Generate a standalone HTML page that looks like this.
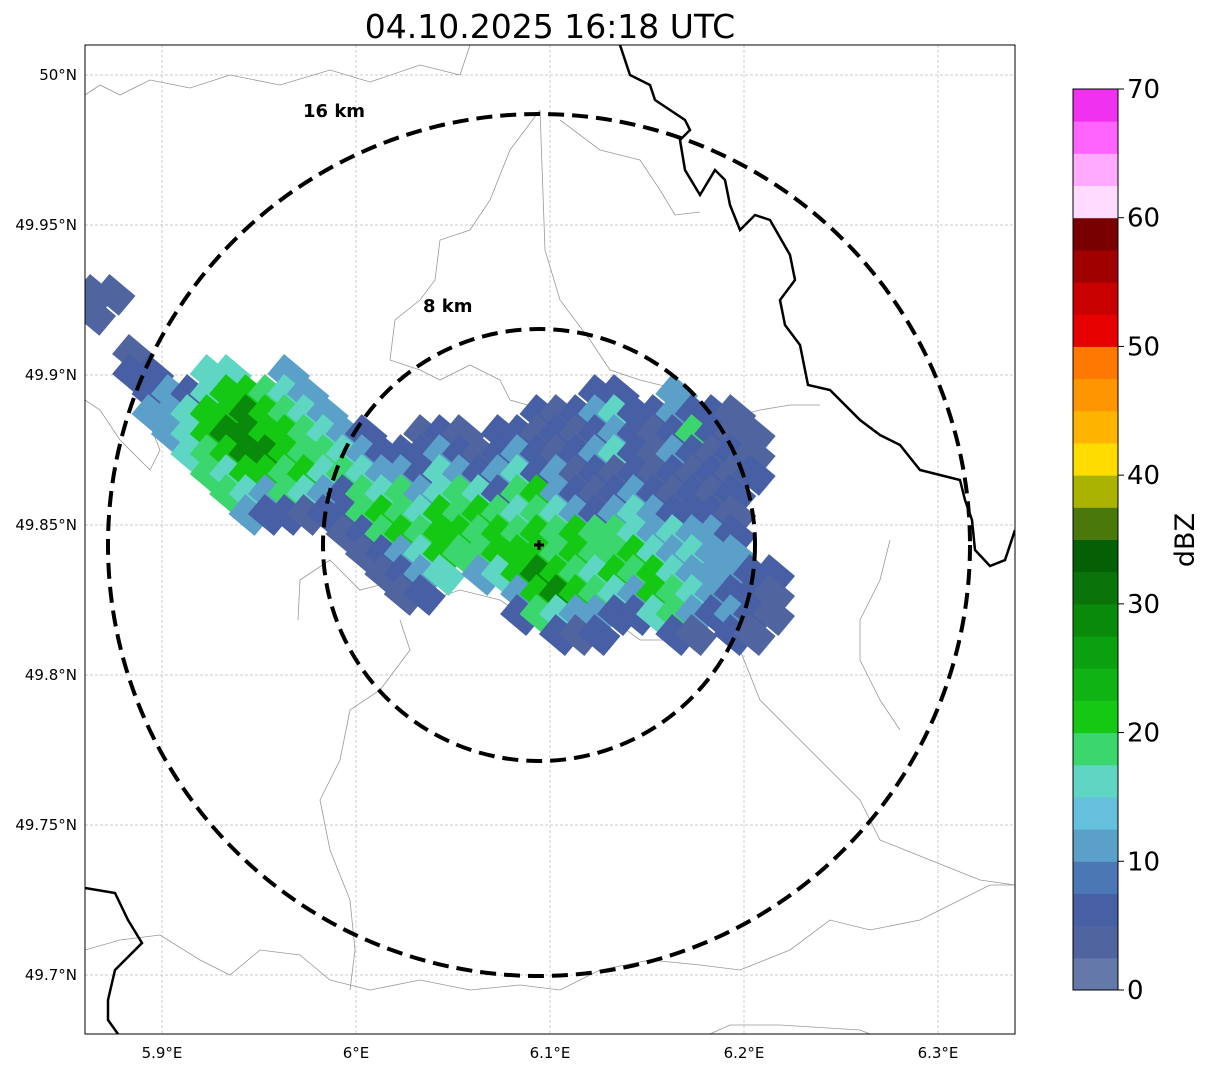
<!DOCTYPE html>
<html><head><meta charset="utf-8"><style>
body{margin:0;background:#fff;font-family:"Liberation Sans","DejaVu Sans",sans-serif;}
svg text{font-family:"DejaVu Sans","Liberation Sans",sans-serif;}
</style></head><body>
<svg id="chart" width="1207" height="1069" viewBox="0 0 1207 1069" xmlns="http://www.w3.org/2000/svg">
<rect width="1207" height="1069" fill="#fff"/>
<text x="550" y="38" font-size="33" text-anchor="middle">04.10.2025 16:18 UTC</text>
<defs><clipPath id="mapclip"><rect x="85" y="45" width="930" height="989"/></clipPath></defs>
<g id="grid"></g>
<g id="borders" clip-path="url(#mapclip)" fill="none">
<path stroke="#999" stroke-width="0.8" d="M85,95 L100,85 L120,95 L150,80 L190,88 L230,75 L280,85 L330,70 L370,82 L420,65 L460,75 L470,45"/>
<path stroke="#999" stroke-width="0.8" d="M85,400 L100,410 L120,440 L150,470 L160,450 L150,425 L160,410 L190,400"/>
<path stroke="#999" stroke-width="0.8" d="M540,110 L510,150 L490,200 L470,230 L440,240 L435,280 L420,300 L395,320 L390,360 L420,370 L440,380 L470,365 L500,380 L510,400 L545,410 L540,440"/>
<path stroke="#999" stroke-width="0.8" d="M540,110 L545,250 L560,300 L590,340 L610,370 L640,380 L680,390 L720,420 L760,410 L790,405 L820,405"/>
<path stroke="#999" stroke-width="0.8" d="M560,120 L600,150 L640,160 L660,190 L675,215 L700,212"/>
<path stroke="#999" stroke-width="0.8" d="M298,620 L300,580 L330,560 L360,590 L400,580 L430,600 L460,590 L500,600 L530,620 L560,640 L600,610 L640,640 L680,640"/>
<path stroke="#999" stroke-width="0.8" d="M400,620 L410,650 L380,690 L350,710 L340,760 L320,800 L330,850 L350,900 L355,950 L350,990"/>
<path stroke="#999" stroke-width="0.8" d="M740,650 L760,700 L800,740 L830,770 L860,800 L880,840 L930,860 L980,880 L1015,885"/>
<path stroke="#999" stroke-width="0.8" d="M890,540 L880,580 L860,620 L860,660 L880,700 L900,730"/>
<path stroke="#999" stroke-width="0.8" d="M85,950 L120,940 L160,935 L200,960 L230,975 L260,950 L300,955 L330,980 L370,990 L420,980 L470,990 L520,985 L560,990 L600,970 L650,960 L700,965 L740,970 L790,950 L830,920 L870,930 L920,920 L960,900 L990,885 L1015,885"/>
<path stroke="#999" stroke-width="0.8" d="M710,1034 L730,1025 L780,1025 L860,1030 L870,1034"/>
<path stroke="#000" stroke-width="2.5" d="M620,45 L630,75 L650,85 L655,100 L685,120 L690,130 L680,140 L685,170 L700,195 L715,170 L725,180 L730,205 L740,230 L755,215 L770,220 L790,255 L795,280 L780,300 L785,325 L800,345 L808,385 L830,390 L860,420 L880,435 L900,445 L920,470 L940,475 L960,480 L965,500 L972,520 L975,550 L990,566 L1005,560 L1015,530"/>
<path stroke="#000" stroke-width="2.5" d="M85,888 L115,893 L128,920 L142,943 L115,970 L108,1000 L108,1020 L118,1034"/>
</g>
<g id="echoes" clip-path="url(#mapclip)"></g>
<g id="rings" fill="none" stroke="#000" stroke-width="4" stroke-dasharray="16,8">
<ellipse cx="539" cy="545" rx="431" ry="431"/>
<ellipse cx="539" cy="545" rx="216" ry="216"/>
</g>
<text x="303" y="117" font-size="18" font-weight="bold">16 km</text>
<text x="423" y="312" font-size="18" font-weight="bold">8 km</text>
<path d="M534,545 H544 M539,540 V550" stroke="#000" stroke-width="3"/>
<rect x="85" y="45" width="930" height="989" fill="none" stroke="#000" stroke-width="1"/>
<g id="ticks" font-size="15"></g>
<g id="cbar"></g>
<text transform="translate(1194,540) rotate(-90)" font-size="27" text-anchor="middle">dBZ</text>
</svg>
<script>
const lonTicks=[5.9,6.0,6.1,6.2,6.3];
const lonLabels=["5.9°E","6°E","6.1°E","6.2°E","6.3°E"];
const latTicks=[50.0,49.95,49.9,49.85,49.8,49.75,49.7];
const latLabels=["50°N","49.95°N","49.9°N","49.85°N","49.8°N","49.75°N","49.7°N"];
const cbColors=["#6478aa","#5064a0","#465fa5","#4b78b4","#5aa0c8","#64c0dc","#5fd6c3","#3cd66e","#14c814","#0fb414","#0aa00f","#0a8a0a","#0a730a","#055f05","#4b780a","#aab400","#ffdc00","#ffb400","#ff9600","#ff7800","#e60000","#c80000","#a00000","#780000","#ffdcff","#ffaaff","#ff64ff","#f032f0"];
const cbTicks=[0,10,20,30,40,50,60,70];
const levelDbz=[null,3,7,12,16,19,22,28];
// echo grid rows: [rowIndex, startColumn, levels]
const echoRows=[
[0,0,"11"],[1,0,"1"],[3,2,"1"],[4,2,"22..44..3"],
[5,3,"232466543"],[5,26,"22..3"],
[6,3,"3346676543"],[6,23,"21234223221"],
[7,4,"34677665432"],[7,17,"121.22121232125211"],
[8,5,"456776554322232123212342132121"],
[9,6,"54665645433243234231212121212"],
[10,7,"543543254534542563212321212"],
[11,8,"32212256546565454323432221"],
[12,13,"125656656565655434332"],
[13,14,"12346556665655643433"],
[14,15,"1234.3467654656433322"],
[15,16,"12"],[15,22,"36765436543221"],
[16,22,"25433224532321"],
[17,24,"212...21.21"]
];
const gridLon0=5.8653, gridDLon=0.01, gridLat0=49.9267, gridDLat=-0.00667;
const NS="http://www.w3.org/2000/svg";
function xOf(lon){return 162+(lon-5.9)*1940;}
function yOf(lat){return 75+(50-lat)*3000;}
function cbY(v){return 990-v/70*901;}
function colorFor(d){return cbColors[Math.min(27,Math.floor(d/2.5))];}
function mk(tag,attrs,parent){const e=document.createElementNS(NS,tag);for(const k in attrs)e.setAttribute(k,attrs[k]);parent.appendChild(e);return e;}
const grid=document.getElementById('grid'),ticks=document.getElementById('ticks');
lonTicks.forEach((v,i)=>{const x=xOf(v);
 const l=mk('line',{x1:x,x2:x,y1:45,y2:1034,stroke:'#bbb','stroke-width':0.7,'stroke-dasharray':'3,2'},grid);
 
 
 const t=mk('text',{x:x,y:1058,'text-anchor':'middle'},ticks);t.textContent=lonLabels[i];
 
 });
latTicks.forEach((v,i)=>{const y=yOf(v);
 const l=mk('line',{x1:85,x2:1015,y1:y,y2:y,stroke:'#bbb','stroke-width':0.7,'stroke-dasharray':'3,2'},grid);
 
 
 const t=mk('text',{x:77,y:y+5,'text-anchor':'end'},ticks);t.textContent=latLabels[i];
 
 });
const echoes=document.getElementById('echoes');
echoRows.forEach(([r,c0,s])=>{for(let k=0;k<s.length;k++){const ch=s[k];if(ch==='.')continue;
 const lon=gridLon0+(c0+k)*gridDLon, lat=gridLat0+r*gridDLat;
 const x=xOf(lon),y=yOf(lat),d=levelDbz[+ch];
 const e=mk('rect',{x:x-17,y:y-13,width:34,height:26,fill:colorFor(d),transform:`rotate(40 ${x} ${y})`},echoes);
 
 }});
const cbar=document.getElementById('cbar');
cbColors.forEach((c,i)=>{const v0=i*2.5,v1=v0+2.5;
 const r=mk('rect',{x:1073,y:cbY(v1),width:45,height:cbY(v0)-cbY(v1)+0.5,fill:c},cbar);
 
 });
const fr=mk('rect',{x:1073,y:89,width:45,height:901,fill:'none',stroke:'#000','stroke-width':1},cbar);


cbTicks.forEach(v=>{const y=cbY(v);
 mk('line',{x1:1118,x2:1124,y1:y,y2:y,stroke:'#000'},cbar);
 const t=mk('text',{x:1127,y:y+9,'font-size':26},cbar);t.textContent=v;
 
 });
</script>
</body></html>
